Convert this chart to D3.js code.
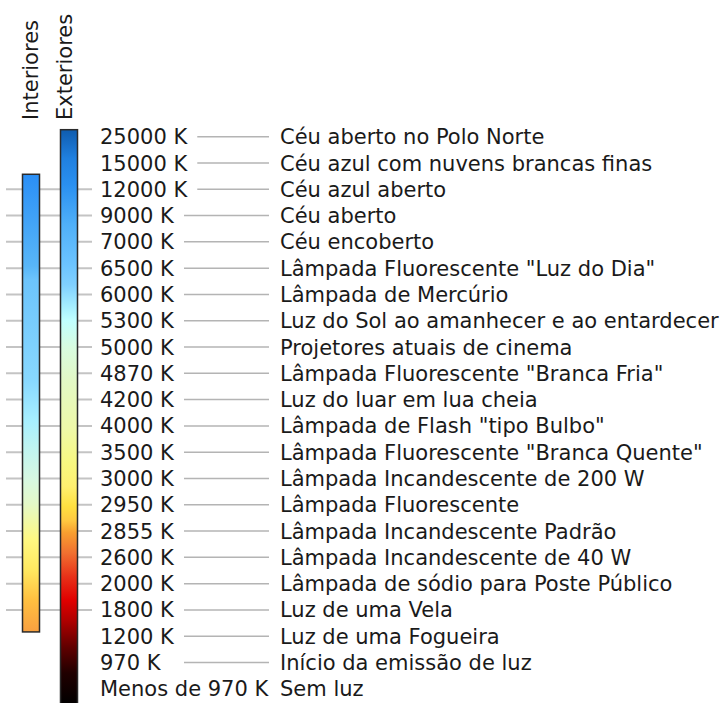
<!DOCTYPE html>
<html>
<head>
<meta charset="utf-8">
<script src="https://cdn.jsdelivr.net/npm/d3@7"></script>
<style>
  body { margin: 0; background: #fff; }
  svg { display: block; font-family: "DejaVu Sans", sans-serif; }
</style>
</head>
<body>
<div id="chart"></div>
<script>
// temperatures, top to bottom
const temperatures = [
  '25000 K', '15000 K', '12000 K', '9000 K', '7000 K', '6500 K', '6000 K', '5300 K',
  '5000 K', '4870 K', '4200 K', '4000 K', '3500 K', '3000 K', '2950 K', '2855 K',
  '2600 K', '2000 K', '1800 K', '1200 K', '970 K', 'Menos de 970 K',
];
const sources = [
  'Céu aberto no Polo Norte',
  'Céu azul com nuvens brancas finas',
  'Céu azul aberto',
  'Céu aberto',
  'Céu encoberto',
  'Lâmpada Fluorescente "Luz do Dia"',
  'Lâmpada de Mercúrio',
  'Luz do Sol ao amanhecer e ao entardecer',
  'Projetores atuais de cinema',
  'Lâmpada Fluorescente "Branca Fria"',
  'Luz do luar em lua cheia',
  'Lâmpada de Flash "tipo Bulbo"',
  'Lâmpada Fluorescente "Branca Quente"',
  'Lâmpada Incandescente de 200 W',
  'Lâmpada Fluorescente',
  'Lâmpada Incandescente Padrão',
  'Lâmpada Incandescente de 40 W',
  'Lâmpada de sódio para Poste Público',
  'Luz de uma Vela',
  'Luz de uma Fogueira',
  'Início da emissão de luz',
  'Sem luz',
];
const groups = ['Interiores', 'Exteriores'];
// range of each scale (first and last temperature it covers)
const interiorRange = ['12000 K', '1800 K'];
const exteriorRange = ['25000 K', 'Menos de 970 K'];

const width = 726;
const height = 703;
const textColor = '#1a1a1a';

// gradient stops, fraction of the bar length
const interiorStops = [
  [0, '#2a8ff6'], [0.2, '#58b6f8'], [0.23, '#6cc4fc'], [0.45, '#88d8ff'],
  [0.54, '#a8f0ff'], [0.6, '#c0f4f0'], [0.67, '#d8f8e0'], [0.72, '#e4f8c8'],
  [0.8, '#fff880'], [0.865, '#ffe860'], [0.93, '#ffc040'], [1, '#f8a040'],
];
const exteriorStops = [
  [0, '#0f5cae'], [0.05, '#2080e0'], [0.096, '#2a90f0'], [0.166, '#50b0f8'],
  [0.235, '#6cc4ff'], [0.27, '#80d0ff'], [0.31, '#a8f0ff'], [0.332, '#c0ffff'],
  [0.378, '#d8fce0'], [0.435, '#e2f8c6'], [0.52, '#eef8a8'], [0.58, '#f8f880'],
  [0.62, '#fff070'], [0.655, '#ffe040'], [0.68, '#ffc840'], [0.7, '#f8a030'],
  [0.736, '#f07030'], [0.778, '#e83018'], [0.818, '#e00000'], [0.853, '#b00000'],
  [0.9, '#600000'], [0.945, '#200000'], [1, '#000000'],
];

const y = d3.scalePoint().domain(temperatures).range([136.7, 688.8]);
const x = d3.scaleBand().domain(groups).range([22.5, 77.5]).paddingInner(21 / 38);

const svg = d3.select('#chart').append('svg')
  .attr('width', width)
  .attr('height', height);

const defs = svg.append('defs');

function gradient(id, stops) {
  defs.append('linearGradient')
    .attr('id', id)
    .attr('x1', 0).attr('x2', 0).attr('y1', 0).attr('y2', 1)
    .selectAll('stop')
    .data(stops)
    .join('stop')
    .attr('offset', d => d[0])
    .attr('stop-color', d => d[1]);
}
gradient('grad-int', interiorStops);
gradient('grad-ext', exteriorStops);

// gray guide lines on the left, only for the interior range
const i0 = temperatures.indexOf(interiorRange[0]);
const i1 = temperatures.indexOf(interiorRange[1]);
svg.append('g')
  .selectAll('line')
  .data(temperatures.slice(i0, i1 + 1))
  .join('line')
  .attr('x1', 6)
  .attr('x2', 92)
  .attr('y1', d => y(d))
  .attr('y2', d => y(d))
  .attr('stroke', '#c4c4c4')
  .attr('stroke-width', 2);

// the two colour bars
const bars = [
  { group: 'Interiores', top: y(interiorRange[0]) - 15, bottom: y(interiorRange[1]) + 22, fill: 'url(#grad-int)' },
  { group: 'Exteriores', top: y(exteriorRange[0]) - 7, bottom: y(exteriorRange[1]) + 16, fill: 'url(#grad-ext)' },
];
svg.append('g')
  .selectAll('rect')
  .data(bars)
  .join('rect')
  .attr('x', d => x(d.group))
  .attr('y', d => d.top)
  .attr('width', x.bandwidth())
  .attr('height', d => d.bottom - d.top)
  .attr('fill', d => d.fill)
  .attr('stroke', '#2a2a2a')
  .attr('stroke-width', 1.5);

// rotated group labels
svg.append('g')
  .selectAll('text')
  .data(groups)
  .join('text')
  .attr('transform', (d, i) => `translate(${x(d) + (i ? 11.5 : 15)},120) rotate(-90)`)
  .attr('font-size', 21)
  .attr('fill', textColor)
  .text(d => d);

// rows: temperature, connector, description
const rows = svg.append('g')
  .selectAll('g')
  .data(temperatures)
  .join('g')
  .attr('transform', d => `translate(0,${y(d)})`);

rows.append('text')
  .attr('x', 100)
  .attr('dy', '0.36em')
  .attr('font-size', 21)
  .attr('fill', textColor)
  .text(d => d);

rows.append('text')
  .attr('x', 280)
  .attr('dy', '0.36em')
  .attr('font-size', 21)
  .attr('fill', textColor)
  .text((d, i) => sources[i]);

rows.filter(d => d !== 'Menos de 970 K')
  .each(function drawConnector() {
    const row = d3.select(this);
    const textEnd = 100 + row.select('text').node().getComputedTextLength();
    row.insert('line', 'text')
      .attr('x1', Math.max(184, textEnd + 10))
      .attr('x2', 269)
      .attr('stroke', '#b4b4b4')
      .attr('stroke-width', 1.5);
  });
</script>
</body>
</html>
